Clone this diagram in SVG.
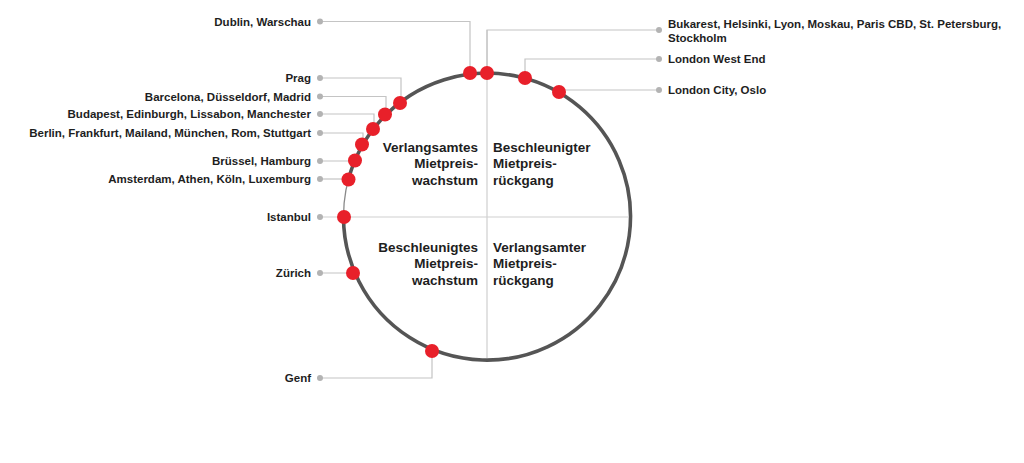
<svg xmlns="http://www.w3.org/2000/svg" width="1024" height="463" viewBox="0 0 1024 463">
<defs>
<style>
.lbl{font-family:"Liberation Sans",Arial,sans-serif;font-weight:bold;font-size:11.5px;fill:#1e1e1e}
.l{text-anchor:end}
.q{font-family:"Liberation Sans",Arial,sans-serif;font-weight:bold;font-size:13.5px;fill:#1e1e1e}
.con{fill:none;stroke:#c4c4c4;stroke-width:1.2}
.end{fill:#b3b3b3}
.pt{fill:#e8202a}
.axis{stroke:#cfcfcf;stroke-width:1.2;fill:none}
</style>
</defs>
<rect width="1024" height="463" fill="#ffffff"/>
<g id="cycle">
<circle cx="487" cy="216.5" r="143.5" fill="none" stroke="#8a8a8a" stroke-width="1.3"/>
<path d="M 343.5 216.5 A 143.5 143.5 0 1 0 348.5 179.1" fill="none" stroke="#555555" stroke-width="3.6"/>
</g>
<g id="axes">
<line class="axis" x1="487" y1="30" x2="487" y2="358"/>
<line class="axis" x1="320" y1="217" x2="628" y2="217"/>
</g>
<g id="connectors">
<polyline class="con" points="320,21.5 470,21.5 470,73"/>
<polyline class="con" points="659,30 487,30 487,73"/>
<polyline class="con" points="659,59 525,59 525,78"/>
<polyline class="con" points="659,90 559,90"/>
<polyline class="con" points="320,78 401,78 401,103"/>
<polyline class="con" points="320,96.5 386,96.5 386,114"/>
<polyline class="con" points="320,114 374,114 374,129"/>
<polyline class="con" points="320,133 363,133 363,144"/>
<polyline class="con" points="320,161 355,161"/>
<polyline class="con" points="320,179 348,179"/>
<polyline class="con" points="320,273 353,273"/>
<polyline class="con" points="320,378 432,378 432,351"/>
</g>
<g id="quadrants">
<text class="q" text-anchor="end" x="478"><tspan x="478" y="151.5">Verlangsamtes</tspan><tspan x="478" y="168">Mietpreis-</tspan><tspan x="478" y="185">wachstum</tspan></text>
<text class="q" x="493"><tspan x="493" y="151.5">Beschleunigter</tspan><tspan x="493" y="168">Mietpreis-</tspan><tspan x="493" y="185">rückgang</tspan></text>
<text class="q" text-anchor="end" x="478"><tspan x="478" y="251.5">Beschleunigtes</tspan><tspan x="478" y="268">Mietpreis-</tspan><tspan x="478" y="285">wachstum</tspan></text>
<text class="q" x="493"><tspan x="493" y="251.5">Verlangsamter</tspan><tspan x="493" y="268">Mietpreis-</tspan><tspan x="493" y="285">rückgang</tspan></text>
</g>
<g id="dublin"><text class="lbl l" x="311" y="25.5">Dublin, Warschau</text><circle class="end" cx="320" cy="21.5" r="3"/><circle class="pt" cx="470" cy="73" r="7"/></g>
<g id="bukarest"><text class="lbl" x="668" y="27.5">Bukarest, Helsinki, Lyon, Moskau, Paris CBD, St. Petersburg,</text><text class="lbl" x="668" y="41.5">Stockholm</text><circle class="end" cx="659" cy="30" r="3"/><circle class="pt" cx="487" cy="73" r="7"/></g>
<g id="london-west-end"><text class="lbl" x="668" y="63">London West End</text><circle class="end" cx="659" cy="59" r="3"/><circle class="pt" cx="525" cy="78" r="7"/></g>
<g id="london-city"><text class="lbl" x="668" y="94">London City, Oslo</text><circle class="end" cx="659" cy="90" r="3"/><circle class="pt" cx="559" cy="92" r="7"/></g>
<g id="prag"><text class="lbl l" x="311" y="82">Prag</text><circle class="end" cx="320" cy="78" r="3"/><circle class="pt" cx="400" cy="103" r="7"/></g>
<g id="barcelona"><text class="lbl l" x="311" y="100.5">Barcelona, Düsseldorf, Madrid</text><circle class="end" cx="320" cy="96.5" r="3"/><circle class="pt" cx="385" cy="114.5" r="7"/></g>
<g id="budapest"><text class="lbl l" x="311" y="118">Budapest, Edinburgh, Lissabon, Manchester</text><circle class="end" cx="320" cy="114" r="3"/><circle class="pt" cx="373" cy="129" r="7"/></g>
<g id="berlin"><text class="lbl l" x="311" y="137">Berlin, Frankfurt, Mailand, München, Rom, Stuttgart</text><circle class="end" cx="320" cy="133" r="3"/><circle class="pt" cx="362" cy="144.5" r="7"/></g>
<g id="bruessel"><text class="lbl l" x="311" y="165">Brüssel, Hamburg</text><circle class="end" cx="320" cy="161" r="3"/><circle class="pt" cx="355" cy="160.5" r="7"/></g>
<g id="amsterdam"><text class="lbl l" x="311" y="183">Amsterdam, Athen, Köln, Luxemburg</text><circle class="end" cx="320" cy="179" r="3"/><circle class="pt" cx="348.5" cy="179.5" r="7"/></g>
<g id="istanbul"><text class="lbl l" x="311" y="221">Istanbul</text><circle class="end" cx="320" cy="217" r="3"/><circle class="pt" cx="344" cy="217" r="7"/></g>
<g id="zuerich"><text class="lbl l" x="311" y="277">Zürich</text><circle class="end" cx="320" cy="273" r="3"/><circle class="pt" cx="353" cy="273" r="7"/></g>
<g id="genf"><text class="lbl l" x="311" y="382">Genf</text><circle class="end" cx="320" cy="378" r="3"/><circle class="pt" cx="432" cy="351" r="7"/></g>
</svg>
